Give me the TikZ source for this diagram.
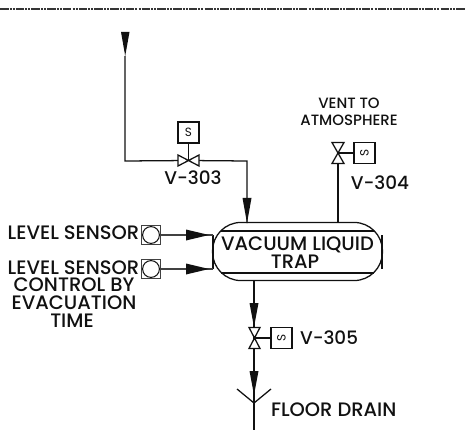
\documentclass[tikz,border=0pt]{standalone}
\usepackage{fontspec}
\setmainfont{Poppins}[BoldFont={* Medium},UprightFont={* Regular}]
\usetikzlibrary{calc}
\definecolor{ink}{HTML}{111111}
\tikzset{
  every node/.style={inner sep=0pt,outer sep=0pt,text=ink},
  pipe/.style={draw=ink,line width=0.95pt},
  thin box/.style={draw=ink,line width=0.95pt,fill=white,minimum width=15.75pt,minimum height=15.75pt},
  sensor box/.style={draw=ink!80,line width=1pt,fill=white,minimum width=13.9pt,minimum height=13.9pt},
  sensor dot/.style={circle,draw=ink,line width=0.8pt,fill=white,minimum size=12.6pt},
  lab/.style={font=\fontsize{14.6pt}{14.6pt}\selectfont\bfseries,align=center},
  biglab/.style={font=\fontsize{13.8pt}{14pt}\selectfont\bfseries},
  smalllab/.style={font=\fontsize{11.2pt}{12.6pt}\selectfont\bfseries,align=center},
  sletter/.style={font=\fontsize{9pt}{9pt}\selectfont},
  head/.style={fill=ink,draw=none},
  valveline/.style={draw=ink,line width=0.95pt,fill=white,line join=miter}
}
\begin{document}
\begin{tikzpicture}[x=0.75pt,y=-0.75pt]
\useasboundingbox (0,0) rectangle (466,441);
\fill[white] (0,0) rectangle (466,441);
% top rule
\coordinate (ruleL) at (0,9); \coordinate (ruleR) at (466,9);
\draw[draw=ink!85,line width=0.9pt,dash pattern=on 6.4pt off 0.8pt on 1.5pt off 0.8pt on 1.5pt off 0.8pt] (ruleL) -- (ruleR);
% coordinates
\coordinate (inlet) at (125,56);
\coordinate (corner) at (125,161);
\coordinate (va) at (188.5,160.5);
\coordinate (bend) at (247,161);
\coordinate (inA) at (247,223);
\coordinate (vb) at (338,153);
\coordinate (outB) at (338,223);
\coordinate (outC) at (254,280);
\coordinate (vc) at (254,338);
\coordinate (dr) at (254,403);
\coordinate (drEnd) at (254,430);
\coordinate (drL) at (237,389);
\coordinate (drR) at (271,389);
% vessel
\node[draw=ink,line width=0.95pt,rounded corners=21.3pt,minimum width=127.4pt,minimum height=43.6pt] (trap) at (297.5,251.5) {};
\coordinate (tl) at (213,235); \coordinate (bl) at (213,269);
\coordinate (tr) at (382,235); \coordinate (br) at (382,269);
\draw[pipe] (tl) -- (bl);
\draw[pipe] (tr) -- (br);
\draw[pipe] (221,231) -- (374,231);
\draw[pipe] (221,273) -- (374,273);
% pipes
\draw[pipe] (inlet) -- (corner) -- (va) -- (bend) -- (inA);
\draw[pipe] (vb) -- (outB);
\draw[pipe] (outC) -- (vc) -- (dr) -- (drEnd);
\draw[pipe] (drL) -- (dr) -- (drR);
% valves
\node[thin box] (sa) at (188.5,132.5) {};
\draw[pipe] (sa.south) -- (va);
\node[sletter] at (sa.center) {S};
\node[thin box] (sb) at (364.5,153) {};
\draw[pipe] (vb) -- (sb.west);
\node[sletter,rotate=90] at (sb.center) {S};
\node[thin box] (sc) at (281.5,338) {};
\draw[pipe] (vc) -- (sc.west);
\node[sletter,rotate=90] at (sc.center) {S};
\draw[valveline] (178,155) -- (199,166) -- (199,155) -- (178,166) -- cycle;
\draw[valveline] (332,142.5) -- (344,142.5) -- (332,163.5) -- (344,163.5) -- cycle;
\draw[valveline] (249,327.5) -- (260,327.5) -- (249,348.5) -- (260,348.5) -- cycle;
% sensors
\node[sensor box] (s1) at (151,235) {};
\node[sensor dot] (c1) at (s1.center) {};
\node[sensor box] (s2) at (151,269) {};
\node[sensor dot] (c2) at (s2.center) {};
\draw[draw=ink!80,line width=1pt] (s1.east) -- (tl);
\draw[draw=ink!80,line width=1pt] (s2.east) -- (bl);
% arrowheads
\fill[head] (121,32) -- (129.5,32) -- (125.2,56) -- cycle;
\fill[head] (242.5,198) -- (251.5,198) -- (247,223) -- cycle;
\fill[head] (186,229.5) -- (186,240.5) -- (209,235) -- cycle;
\fill[head] (186,263.5) -- (186,274.5) -- (209,269) -- cycle;
\fill[head] (249.5,303) -- (258.5,303) -- (254,327) -- cycle;
\fill[head] (249.5,371) -- (258.5,371) -- (254,395) -- cycle;
% labels
\node[biglab] at (193,178) {V-303};
\node[biglab] at (380,183) {V-304};
\node[biglab,anchor=west] at (300,338) {V-305};
\node[smalllab] at (349,111.5) {VENT TO\\ATMOSPHERE};
\node[lab] at (73.5,233) {LEVEL SENSOR};
\node[lab] at (73.5,268) {LEVEL SENSOR};
\node[lab] at (74,285) {CONTROL BY};
\node[lab] at (74,303) {EVACUATION};
\node[lab] at (72,321) {TIME};
\node[lab] at (297.5,245) {VACUUM LIQUID};
\node[lab] at (295,262) {TRAP};
\node[lab,anchor=west] at (271,410) {FLOOR DRAIN};
\end{tikzpicture}
\end{document}
